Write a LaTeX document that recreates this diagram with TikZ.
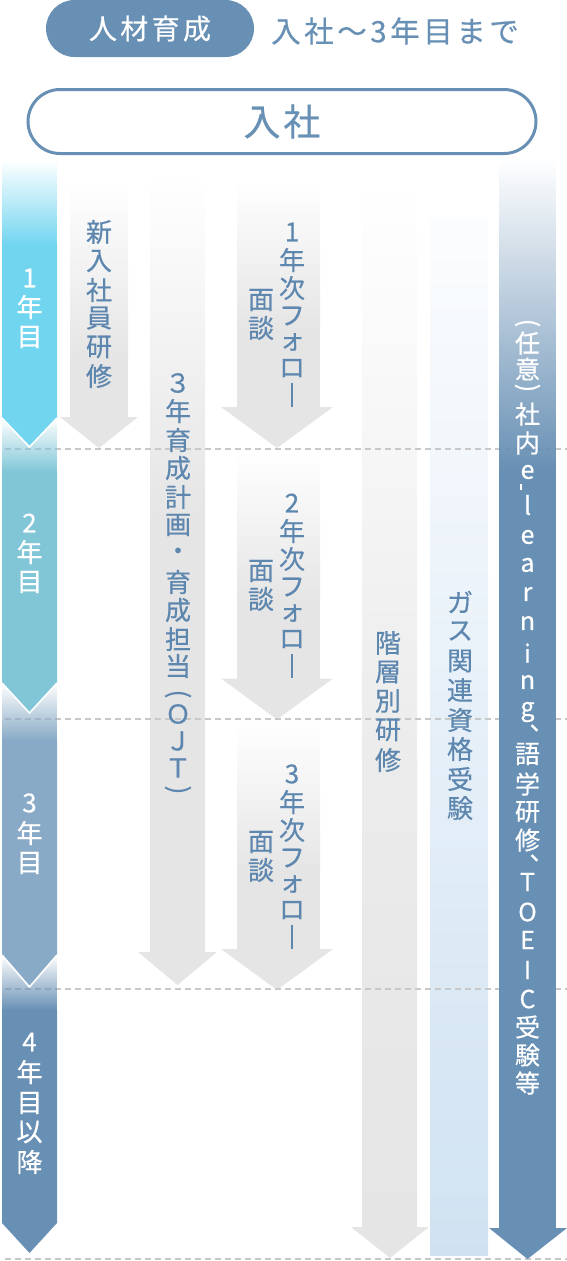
\documentclass[tikz,border=0pt]{standalone}
\usepackage{fontspec}
\setmainfont{Noto Sans CJK JP}[FakeBold=0.5]
\usetikzlibrary{fadings}
\definecolor{mblue}{HTML}{6890B4}
\definecolor{tblue}{HTML}{5E87AF}
\definecolor{yca}{HTML}{72D5F0}
\definecolor{ycb}{HTML}{80C6D7}
\definecolor{ycc}{HTML}{89AAC6}
\definecolor{ycd}{HTML}{6890B4}
\definecolor{gcol}{HTML}{E5E5E5}
\definecolor{bcol}{HTML}{D0E2F2}
\definecolor{dashc}{HTML}{C8C8C8}
\tikzfading[name=fromtop, top color=transparent!100, bottom color=transparent!0]
\begin{document}
\begin{tikzpicture}[x=1pt,y=1pt,
  vt/.style={text=tblue, inner sep=0pt, font=\fontsize{26}{26}\selectfont},
  vw/.style={vt, text=white},
  vs/.style={inner sep=0pt, text=white, font=\fontsize{25}{25}\selectfont},
  dashl/.style={draw=dashc, line width=1.2pt, dash pattern=on 6pt off 4pt},
  vline/.style={draw=white, line width=1.6pt},
  rp/.style={rotate=-90},
]
\useasboundingbox (0,0) rectangle (567,-1261);

% ---------- header ----------
\node[fill=mblue, rounded corners=28.5pt, minimum width=208pt, minimum height=57pt,
      inner sep=0pt, text=white,
      font=\fontsize{28}{28}\selectfont\addfontfeature{LetterSpace=12}] (pill) at (150,-28.5) {人材育成};
\node[anchor=west, inner sep=0pt, text=mblue,
      font=\fontsize{29.5}{29.5}\selectfont\addfontfeature{LetterSpace=12}] (sub) at (271,-31) {入社〜3年目まで};
\node[draw=mblue, line width=3pt, rounded corners=32pt, minimum width=508pt, minimum height=64pt,
      inner sep=0pt, text=mblue,
      font=\fontsize{37}{37}\selectfont\addfontfeature{LetterSpace=8}] (nyusha) at (282,-121.5) {入社};

% ---------- gray columns ----------
% new employee training
\shade[top color=white, bottom color=gcol] (70,-180) rectangle (128,-360);
\fill[gcol] (70,-359.5) rectangle (128,-417.5);
\fill[gcol] (60,-417) -- (138,-417) -- (99,-448) -- cycle;
% OJT
\shade[top color=white, bottom color=gcol] (150,-175) rectangle (205,-520);
\fill[gcol] (150,-519.5) rectangle (205,-952.5);
\fill[gcol] (138,-952) -- (217,-952) -- (177.5,-985) -- cycle;
% follow-up interviews
\foreach \o in {0,271.5,542}{
  \shade[top color=white, bottom color=gcol] (237,-180-\o) rectangle (320,-330-\o);
  \fill[gcol] (237,-329.5-\o) rectangle (320,-407.5-\o);
  \fill[gcol] (221,-407-\o) -- (333,-407-\o) -- (277,-448-\o) -- cycle;
}
% level-based training
\shade[top color=white, bottom color=gcol!75!white] (362,-180) rectangle (417,-760);
\shade[top color=gcol!75!white, bottom color=gcol] (362,-759.5) rectangle (417,-1227.5);
\fill[gcol] (351,-1227) -- (429,-1227) -- (390,-1258) -- cycle;
% gas qualification
\shade[top color=bcol!8!white, bottom color=bcol] (430,-218) rectangle (488,-1255);

% ---------- dashed year lines ----------
\foreach \y in {449,719,989,1259}
  \draw[dashl] (5,-\y) -- (567,-\y);

% ---------- year bar ----------
\fill[ycd, path fading=fromtop] (2,-955) rectangle (57,-1010);
\fill[ycd] (2,-1009.5) -- (57,-1009.5) -- (57,-1223) -- (29.5,-1253) -- (2,-1223) -- cycle;
\fill[ycc, path fading=fromtop] (2,-683) rectangle (57,-740);
\fill[ycc] (2,-739.5) -- (57,-739.5) -- (57,-955) -- (29.5,-987) -- (2,-955) -- cycle;
\draw[vline] (2,-955) -- (29.5,-987) -- (57,-955);
\fill[ycb, path fading=fromtop] (2,-418) rectangle (57,-472);
\fill[ycb] (2,-471.5) -- (57,-471.5) -- (57,-683) -- (29.5,-713) -- (2,-683) -- cycle;
\draw[vline] (2,-683) -- (29.5,-713) -- (57,-683);
\fill[yca, path fading=fromtop] (2,-160) rectangle (57,-245);
\fill[yca] (2,-244.5) -- (57,-244.5) -- (57,-418) -- (29.5,-447) -- (2,-418) -- cycle;
\draw[vline] (2,-418) -- (29.5,-447) -- (57,-418);

% ---------- e-learning column ----------
\fill[mblue, path fading=fromtop] (499,-158) rectangle (556,-470);
\fill[mblue] (499,-469.5) rectangle (556,-1228.5);
\fill[mblue] (489,-1228) -- (567,-1228) -- (527.5,-1259) -- cycle;

% ---------- year labels ----------
\foreach \c/\y [count=\i] in {1/278,年/307,目/337}
  \node[vw] (ya\i) at (29.5,-\y) {\c};
\foreach \c/\y [count=\i] in {2/523,年/552,目/582}
  \node[vw] (yb\i) at (29.5,-\y) {\c};
\foreach \c/\y [count=\i] in {3/803,年/833,目/863}
  \node[vw] (yc\i) at (29.5,-\y) {\c};
\foreach \c/\y [count=\i] in {4/1042,年/1072,目/1103,以/1132,降/1162}
  \node[vw] (yd\i) at (29.5,-\y) {\c};

% ---------- column texts ----------
\foreach \c/\y [count=\i] in {新/232,入/261,社/290,員/318,研/347,修/376}
  \node[vt] (shin\i) at (99,-\y) {\c};
\foreach \c/\y [count=\i] in {３/383,年/411,育/440,成/468,計/497,画/525,・/554,育/582,成/610,担/639,当/666,Ｏ/714,Ｊ/741,Ｔ/768}
  \node[vt] (ojt\i) at (178,-\y) {\c};
\node[vt, rp] (ojtpa) at (178,-694) {(};
\node[vt, rp] (ojtpb) at (178,-790) {)};
\foreach \n/\o in {1/0,2/271,3/542}{
  \foreach \c/\y [count=\i] in {\n/232,年/260,次/288,フ/316,ォ/342,ロ/368,{\rule{2.2pt}{24pt}}/395}
    \node[vt] (fu\n-\i) at (292,-\y-\o) {\c};
  \foreach \c/\y [count=\i] in {面/300,談/328}
    \node[vt] (md\n-\i) at (261,-\y-\o) {\c};
}
\foreach \c/\y [count=\i] in {階/643,層/672,別/701,研/730,修/760}
  \node[vt] (kaiso\i) at (388,-\y) {\c};
\foreach \c/\y [count=\i] in {ガ/602,ス/631,関/661,連/690,資/720,格/749,受/779,験/808}
  \node[vt] (gas\i) at (460,-\y) {\c};
\node[vs, rp] (elpa) at (527.5,-323) {(};
\node[vs, rp] (elpb) at (527.5,-388) {)};
\foreach \c/\y [count=\i] in {任/343,意/369,社/414,内/443,e/472,l/505,e/537,a/565,r/594,n/623,i/653,n/682,g/712,語/754,学/784,研/812,修/840,T/882,O/912,E/940,I/970,C/999,受/1027,験/1055,等/1083}
  \node[vs] (el\i) at (527.5,-\y) {\c};
\node[vs] (elhy) at (521,-487) {\rule{1.5pt}{6pt}};
\node[vs] (elc1) at (542,-728) {、};
\node[vs] (elc2) at (542,-858) {、};
\end{tikzpicture}
\end{document}
